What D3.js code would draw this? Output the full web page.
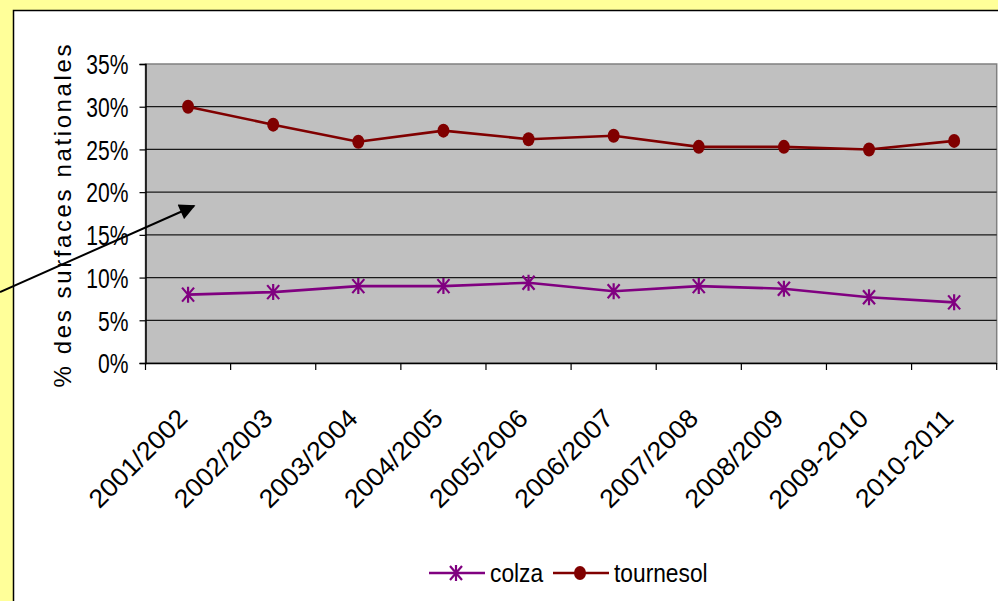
<!DOCTYPE html>
<html>
<head>
<meta charset="utf-8">
<script src="https://cdn.jsdelivr.net/npm/d3@7"></script>
<style>
  html, body { margin: 0; padding: 0; background: #FFFF99; }
  svg { display: block; }
  text { font-family: "Liberation Sans", Arial, sans-serif; fill: #000; }
</style>
</head>
<body>
<div id="chart-container"></div>
<script>
// Data
const campagnes = ["2001/2002", "2002/2003", "2003/2004", "2004/2005", "2005/2006",
                   "2006/2007", "2007/2008", "2008/2009", "2009-2010", "2010-2011"];
const colza     = [0.080, 0.083, 0.090, 0.090, 0.094, 0.084, 0.090, 0.087, 0.077, 0.071];
const tournesol = [0.300, 0.279, 0.259, 0.272, 0.262, 0.266, 0.253, 0.253, 0.250, 0.260];
const yTicks    = [0, 0.05, 0.10, 0.15, 0.20, 0.25, 0.30, 0.35];

const W = 998, H = 601;
const plot = { left: 145.5, right: 996.7, top: 64, bottom: 363 };

const svg = d3.select("#chart-container")
    .append("svg")
        .attr("width", W)
        .attr("height", H);

// squeeze text horizontally, like the narrow rendering of the original
function squeeze(sel, k) {
    sel.each(function () {
        const len = this.getComputedTextLength();
        d3.select(this)
            .attr("textLength", len * k)
            .attr("lengthAdjust", "spacingAndGlyphs");
    });
}

// White chart area with border
svg.append("rect")
    .attr("x", 13.5)
    .attr("y", 10.5)
    .attr("width", W + 50)
    .attr("height", H + 50)
    .attr("fill", "#fff")
    .attr("stroke", "#000")
    .attr("stroke-width", 1.5);

// Scales
const x = d3.scaleBand()
    .domain(campagnes)
    .range([plot.left, plot.right])
    .padding(0);

const y = d3.scaleLinear()
    .domain([0, 0.35])
    .range([plot.bottom, plot.top]);

// Plot background
svg.append("rect")
    .attr("x", plot.left)
    .attr("y", plot.top)
    .attr("width", plot.right - plot.left)
    .attr("height", plot.bottom - plot.top)
    .attr("fill", "#C0C0C0")
    .attr("stroke", "#808080")
    .attr("stroke-width", 1.5);

// Horizontal grid lines
svg.append("g")
    .selectAll("line")
    .data(yTicks.filter(d => d > 0 && d < 0.35))
    .join("line")
    .attr("x1", plot.left)
    .attr("x2", plot.right)
    .attr("y1", d => y(d))
    .attr("y2", d => y(d))
    .attr("stroke", "#1a1a1a")
    .attr("stroke-width", 1.2);

// Y axis
const yAxis = svg.append("g")
    .attr("transform", `translate(${plot.left},0)`)
    .call(d3.axisLeft(y)
        .tickValues(yTicks)
        .tickSize(6)
        .tickPadding(11)
        .tickFormat(d3.format(".0%")));
yAxis.select(".domain").attr("stroke", "#000").attr("stroke-width", 1.5);
yAxis.selectAll(".tick line").attr("stroke", "#000").attr("stroke-width", 1.2);
yAxis.selectAll(".tick text")
    .attr("font-size", 27)
    .attr("font-family", "Liberation Sans, Arial, sans-serif")
    .attr("fill", "#000")
    .attr("dy", "0.36em")
    .call(squeeze, 0.78);

// X axis: line, ticks at category boundaries, rotated labels
svg.append("line")
    .attr("x1", plot.left)
    .attr("x2", plot.right)
    .attr("y1", plot.bottom + 0.5)
    .attr("y2", plot.bottom + 0.5)
    .attr("stroke", "#000")
    .attr("stroke-width", 1.5);

const bounds = campagnes.map(d => x(d)).concat([x(campagnes[campagnes.length - 1]) + x.bandwidth()]);
svg.append("g")
    .selectAll("line")
    .data(bounds)
    .join("line")
    .attr("x1", d => d)
    .attr("x2", d => d)
    .attr("y1", plot.bottom)
    .attr("y2", plot.bottom + 7)
    .attr("stroke", "#000")
    .attr("stroke-width", 1.2);

svg.append("g")
    .selectAll("text")
    .data(campagnes)
    .join("text")
      .attr("transform", d => `translate(${x(d) + x.bandwidth() / 2 + 1},${plot.bottom + 57}) rotate(-45)`)
      .attr("text-anchor", "end")
      .attr("font-size", 26)
      .text(d => d)
      .call(squeeze, 1.03);

// Y axis title
svg.append("text")
    .attr("transform", `translate(71,216) rotate(-90)`)
    .attr("text-anchor", "middle")
    .attr("font-size", 24)
    .attr("textLength", 343)
    .attr("lengthAdjust", "spacing")
    .text("% des surfaces nationales");

// Lines
const line = d3.line()
    .x((d, i) => x(campagnes[i]) + x.bandwidth() / 2)
    .y(d => y(d));

const colzaColor = "#800080";
const tournesolColor = "#800000";

svg.append("path")
    .datum(colza)
    .attr("fill", "none")
    .attr("stroke", colzaColor)
    .attr("stroke-width", 2.6)
    .attr("d", line);

svg.append("path")
    .datum(tournesol)
    .attr("fill", "none")
    .attr("stroke", tournesolColor)
    .attr("stroke-width", 2.6)
    .attr("d", line);

// Asterisk marker
function asterisk(g, color) {
    g.append("path")
        .attr("d", "M-6,-7L6,7M-6,7L6,-7M0,-8L0,8")
        .attr("stroke", color)
        .attr("stroke-width", 2.2)
        .attr("fill", "none");
}

svg.append("g")
    .selectAll("g")
    .data(colza)
    .join("g")
      .attr("transform", (d, i) => `translate(${x(campagnes[i]) + x.bandwidth() / 2},${y(d)})`)
      .each(function () { asterisk(d3.select(this), colzaColor); });

svg.append("g")
    .selectAll("ellipse")
    .data(tournesol)
    .join("ellipse")
      .attr("cx", (d, i) => x(campagnes[i]) + x.bandwidth() / 2)
      .attr("cy", d => y(d))
      .attr("rx", 6)
      .attr("ry", 7)
      .attr("fill", tournesolColor);

// Arrow annotation
svg.append("defs").append("marker")
    .attr("id", "arrow")
    .attr("viewBox", "0 0 10 10")
    .attr("refX", 9)
    .attr("refY", 5)
    .attr("markerWidth", 9)
    .attr("markerHeight", 8)
    .attr("markerUnits", "strokeWidth")
    .attr("orient", "auto")
  .append("path")
    .attr("d", "M0,0L10,5L0,10Z")
    .attr("fill", "#000");

svg.append("line")
    .attr("x1", 0)
    .attr("y1", 292)
    .attr("x2", 194)
    .attr("y2", 206)
    .attr("stroke", "#000")
    .attr("stroke-width", 2)
    .attr("marker-end", "url(#arrow)");

// Legend
const legend = svg.append("g");
const items = [
    { name: "colza", color: colzaColor, x0: 429, mark: "star" },
    { name: "tournesol", color: tournesolColor, x0: 553, mark: "dot" }
];
items.forEach(it => {
    const g = legend.append("g").attr("transform", `translate(${it.x0},573)`);
    g.append("line")
        .attr("x1", 0).attr("x2", 56)
        .attr("stroke", it.color)
        .attr("stroke-width", 2.6);
    const m = g.append("g").attr("transform", "translate(27,0)");
    if (it.mark === "star") asterisk(m, it.color);
    else m.append("ellipse").attr("rx", 6).attr("ry", 7).attr("fill", it.color);
    g.append("text")
        .attr("x", 61)
        .attr("y", 9)
        .attr("font-size", 25)
        .text(it.name)
        .call(squeeze, 0.91);
});
</script>
</body>
</html>
